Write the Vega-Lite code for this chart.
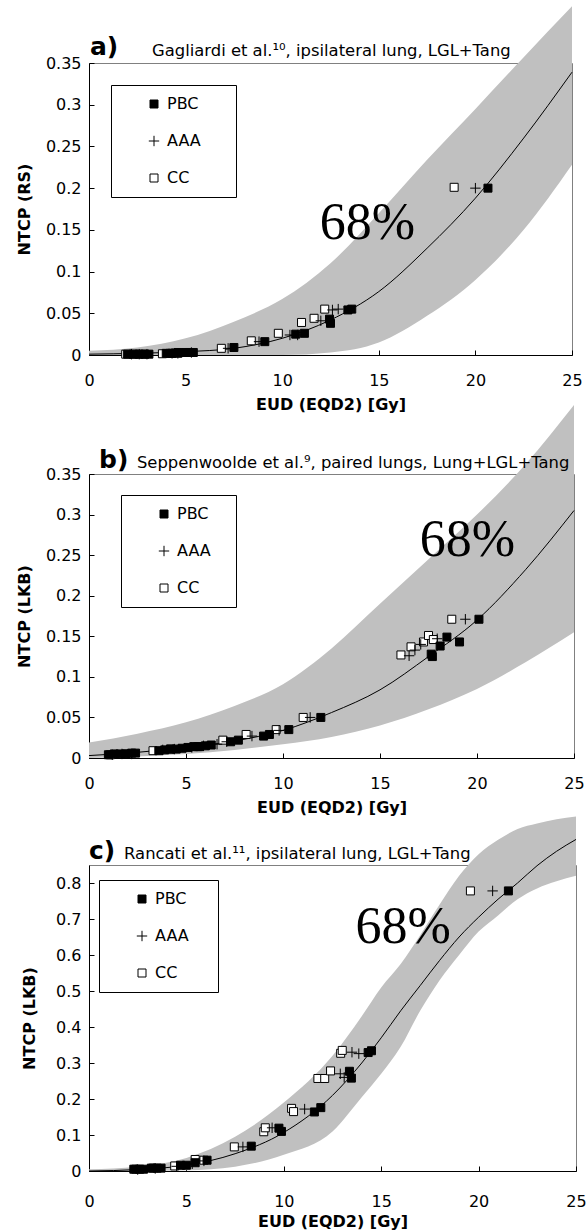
{
"$schema": "https://vega.github.io/schema/vega-lite/v6.json",
"padding": {"left": 15, "top": 5, "right": 0, "bottom": 0},
"background": "white",
"bounds": "flush",
"spacing": 119,
"config": {
 "view": {"stroke": "#808080", "strokeWidth": 1},
 "font": "DejaVu Sans",
 "axis": {"domainColor": "black", "domainWidth": 1, "tickColor": "black", "tickWidth": 1, "tickSize": -5, "grid": false, "labelOverlap": false, "labelFlush": false, "labelBound": false, "labelFont": "DejaVu Sans", "labelFontSize": 16, "labelColor": "black", "titleFont": "DejaVu Sans", "titleFontSize": 16, "titleFontWeight": "bold", "titleColor": "black"},
 "axisX": {"labelPadding": 22, "titlePadding": 8},
 "axisY": {"labelPadding": 13, "titlePadding": 13},
 "legend": {"strokeColor": "black", "strokeWidth": 1, "fillColor": "white", "padding": 11, "rowPadding": 21, "labelFont": "DejaVu Sans", "labelFontSize": 16, "labelColor": "black", "symbolSize": 64, "symbolStrokeColor": "black", "symbolStrokeWidth": 1, "symbolOffset": 24, "labelOffset": 5, "titleOrient": "right", "titlePadding": 0, "titleOpacity": 0, "titleFont": "DejaVu Sans", "titleFontWeight": "normal"}
},
"datasets": {
 "crvA": [
  {"x": 0, "y": 0.001, "lo": 0, "hi": 0.005},
  {"x": 2.5, "y": 0.002, "lo": 0, "hi": 0.009},
  {"x": 5, "y": 0.004, "lo": 0, "hi": 0.02},
  {"x": 7.5, "y": 0.008, "lo": 0, "hi": 0.04},
  {"x": 10, "y": 0.02, "lo": 0, "hi": 0.067},
  {"x": 12.5, "y": 0.042, "lo": 0.003, "hi": 0.11},
  {"x": 15, "y": 0.076, "lo": 0.015, "hi": 0.17},
  {"x": 17.5, "y": 0.128, "lo": 0.047, "hi": 0.234},
  {"x": 20, "y": 0.188, "lo": 0.09, "hi": 0.295},
  {"x": 22.5, "y": 0.26, "lo": 0.15, "hi": 0.357},
  {"x": 25, "y": 0.339, "lo": 0.228, "hi": 0.418}
 ],
 "crvB": [
  {"x": 0, "y": 0.003, "lo": 0, "hi": 0.019},
  {"x": 2.5, "y": 0.007, "lo": 0.002, "hi": 0.03},
  {"x": 5, "y": 0.013, "lo": 0.005, "hi": 0.044},
  {"x": 7.5, "y": 0.021, "lo": 0.01, "hi": 0.064},
  {"x": 10, "y": 0.034, "lo": 0.017, "hi": 0.091},
  {"x": 12.5, "y": 0.056, "lo": 0.026, "hi": 0.135},
  {"x": 15, "y": 0.084, "lo": 0.04, "hi": 0.19},
  {"x": 17.5, "y": 0.125, "lo": 0.06, "hi": 0.245},
  {"x": 20, "y": 0.17, "lo": 0.085, "hi": 0.3},
  {"x": 22.5, "y": 0.232, "lo": 0.118, "hi": 0.362},
  {"x": 25, "y": 0.305, "lo": 0.155, "hi": 0.435}
 ],
 "crvC": [
  {"x": 0, "y": 0, "lo": 0, "hi": 0.005},
  {"x": 2.5, "y": 0.004, "lo": 0, "hi": 0.012},
  {"x": 5, "y": 0.016, "lo": 0.002, "hi": 0.036},
  {"x": 7.5, "y": 0.048, "lo": 0.012, "hi": 0.095},
  {"x": 10, "y": 0.107, "lo": 0.045, "hi": 0.19},
  {"x": 12.5, "y": 0.21, "lo": 0.11, "hi": 0.32},
  {"x": 14, "y": 0.3, "lo": 0.205, "hi": 0.43},
  {"x": 15, "y": 0.37, "lo": 0.27, "hi": 0.51},
  {"x": 16, "y": 0.445, "lo": 0.345, "hi": 0.575},
  {"x": 17, "y": 0.515, "lo": 0.445, "hi": 0.655},
  {"x": 18, "y": 0.585, "lo": 0.53, "hi": 0.74},
  {"x": 19, "y": 0.65, "lo": 0.6, "hi": 0.82},
  {"x": 20, "y": 0.705, "lo": 0.665, "hi": 0.88},
  {"x": 21, "y": 0.755, "lo": 0.71, "hi": 0.92},
  {"x": 22, "y": 0.8, "lo": 0.755, "hi": 0.95},
  {"x": 23, "y": 0.848, "lo": 0.785, "hi": 0.965},
  {"x": 24, "y": 0.888, "lo": 0.805, "hi": 0.977},
  {"x": 25, "y": 0.921, "lo": 0.82, "hi": 0.985}
 ],
 "ptsA": [
  {"series": "CC", "x": 1.9, "y": 0.001}, {"series": "CC", "x": 2.3, "y": 0.001}, {"series": "CC", "x": 2.7, "y": 0.001}, {"series": "CC", "x": 3.8, "y": 0.0015}, {"series": "CC", "x": 4.2, "y": 0.002}, {"series": "CC", "x": 4.6, "y": 0.002}, {"series": "CC", "x": 5.2, "y": 0.003}, {"series": "CC", "x": 6.85, "y": 0.008}, {"series": "CC", "x": 8.4, "y": 0.017}, {"series": "CC", "x": 9.8, "y": 0.026}, {"series": "CC", "x": 11.0, "y": 0.039}, {"series": "CC", "x": 11.65, "y": 0.044}, {"series": "CC", "x": 12.2, "y": 0.055}, {"series": "CC", "x": 18.9, "y": 0.201},
  {"series": "AAA", "x": 2.2, "y": 0.001}, {"series": "AAA", "x": 2.6, "y": 0.001}, {"series": "AAA", "x": 3.0, "y": 0.001}, {"series": "AAA", "x": 4.3, "y": 0.002}, {"series": "AAA", "x": 4.6, "y": 0.002}, {"series": "AAA", "x": 5.3, "y": 0.003}, {"series": "AAA", "x": 7.2, "y": 0.008}, {"series": "AAA", "x": 8.8, "y": 0.016}, {"series": "AAA", "x": 10.4, "y": 0.024}, {"series": "AAA", "x": 10.8, "y": 0.024}, {"series": "AAA", "x": 12.0, "y": 0.041}, {"series": "AAA", "x": 12.6, "y": 0.054}, {"series": "AAA", "x": 12.9, "y": 0.055}, {"series": "AAA", "x": 20.0, "y": 0.2},
  {"series": "PBC", "x": 2.0, "y": 0.001}, {"series": "PBC", "x": 2.3, "y": 0.001}, {"series": "PBC", "x": 2.6, "y": 0.001}, {"series": "PBC", "x": 2.9, "y": 0.001}, {"series": "PBC", "x": 3.1, "y": 0.001}, {"series": "PBC", "x": 4.0, "y": 0.002}, {"series": "PBC", "x": 4.3, "y": 0.002}, {"series": "PBC", "x": 4.6, "y": 0.003}, {"series": "PBC", "x": 5.0, "y": 0.003}, {"series": "PBC", "x": 5.4, "y": 0.003}, {"series": "PBC", "x": 7.5, "y": 0.009}, {"series": "PBC", "x": 9.1, "y": 0.016}, {"series": "PBC", "x": 10.7, "y": 0.025}, {"series": "PBC", "x": 11.15, "y": 0.026}, {"series": "PBC", "x": 12.45, "y": 0.043}, {"series": "PBC", "x": 12.5, "y": 0.038}, {"series": "PBC", "x": 13.4, "y": 0.054}, {"series": "PBC", "x": 13.6, "y": 0.055}, {"series": "PBC", "x": 20.65, "y": 0.2}
 ],
 "ptsB": [
  {"series": "CC", "x": 1.1, "y": 0.004}, {"series": "CC", "x": 2.0, "y": 0.005}, {"series": "CC", "x": 3.3, "y": 0.009}, {"series": "CC", "x": 4.2, "y": 0.011}, {"series": "CC", "x": 5.6, "y": 0.014}, {"series": "CC", "x": 6.9, "y": 0.022}, {"series": "CC", "x": 8.1, "y": 0.029}, {"series": "CC", "x": 9.65, "y": 0.035}, {"series": "CC", "x": 11.04, "y": 0.05}, {"series": "CC", "x": 16.08, "y": 0.127}, {"series": "CC", "x": 16.6, "y": 0.137}, {"series": "CC", "x": 17.24, "y": 0.143}, {"series": "CC", "x": 17.5, "y": 0.151}, {"series": "CC", "x": 17.75, "y": 0.146}, {"series": "CC", "x": 18.7, "y": 0.171},
  {"series": "AAA", "x": 1.2, "y": 0.004}, {"series": "AAA", "x": 1.7, "y": 0.005}, {"series": "AAA", "x": 2.2, "y": 0.005}, {"series": "AAA", "x": 3.8, "y": 0.01}, {"series": "AAA", "x": 4.4, "y": 0.011}, {"series": "AAA", "x": 5.3, "y": 0.013}, {"series": "AAA", "x": 5.9, "y": 0.015}, {"series": "AAA", "x": 6.6, "y": 0.017}, {"series": "AAA", "x": 7.1, "y": 0.02}, {"series": "AAA", "x": 8.4, "y": 0.027}, {"series": "AAA", "x": 9.8, "y": 0.034}, {"series": "AAA", "x": 11.4, "y": 0.05}, {"series": "AAA", "x": 16.5, "y": 0.126}, {"series": "AAA", "x": 16.8, "y": 0.133}, {"series": "AAA", "x": 17.1, "y": 0.14}, {"series": "AAA", "x": 17.95, "y": 0.147}, {"series": "AAA", "x": 19.4, "y": 0.171},
  {"series": "PBC", "x": 1.0, "y": 0.004}, {"series": "PBC", "x": 1.3, "y": 0.005}, {"series": "PBC", "x": 1.6, "y": 0.005}, {"series": "PBC", "x": 1.9, "y": 0.005}, {"series": "PBC", "x": 2.2, "y": 0.006}, {"series": "PBC", "x": 2.4, "y": 0.006}, {"series": "PBC", "x": 3.6, "y": 0.009}, {"series": "PBC", "x": 3.9, "y": 0.01}, {"series": "PBC", "x": 4.2, "y": 0.011}, {"series": "PBC", "x": 4.5, "y": 0.011}, {"series": "PBC", "x": 4.8, "y": 0.012}, {"series": "PBC", "x": 5.1, "y": 0.013}, {"series": "PBC", "x": 5.4, "y": 0.014}, {"series": "PBC", "x": 5.7, "y": 0.014}, {"series": "PBC", "x": 6.0, "y": 0.015}, {"series": "PBC", "x": 6.3, "y": 0.016}, {"series": "PBC", "x": 7.3, "y": 0.02}, {"series": "PBC", "x": 7.7, "y": 0.022}, {"series": "PBC", "x": 9.0, "y": 0.027}, {"series": "PBC", "x": 9.3, "y": 0.029}, {"series": "PBC", "x": 10.3, "y": 0.035}, {"series": "PBC", "x": 11.95, "y": 0.05}, {"series": "PBC", "x": 17.64, "y": 0.128}, {"series": "PBC", "x": 17.7, "y": 0.125}, {"series": "PBC", "x": 18.1, "y": 0.138}, {"series": "PBC", "x": 18.45, "y": 0.149}, {"series": "PBC", "x": 19.1, "y": 0.143}, {"series": "PBC", "x": 20.1, "y": 0.171}
 ],
 "ptsC": [
  {"series": "CC", "x": 2.4, "y": 0.005}, {"series": "CC", "x": 3.3, "y": 0.008}, {"series": "CC", "x": 4.4, "y": 0.014}, {"series": "CC", "x": 5.45, "y": 0.032}, {"series": "CC", "x": 5.9, "y": 0.03}, {"series": "CC", "x": 7.46, "y": 0.067}, {"series": "CC", "x": 8.97, "y": 0.109}, {"series": "CC", "x": 9.05, "y": 0.12}, {"series": "CC", "x": 10.4, "y": 0.174}, {"series": "CC", "x": 10.5, "y": 0.165}, {"series": "CC", "x": 11.75, "y": 0.257}, {"series": "CC", "x": 12.1, "y": 0.257}, {"series": "CC", "x": 12.4, "y": 0.278}, {"series": "CC", "x": 12.92, "y": 0.327}, {"series": "CC", "x": 13.0, "y": 0.335}, {"series": "CC", "x": 19.58, "y": 0.778},
  {"series": "AAA", "x": 2.5, "y": 0.004}, {"series": "AAA", "x": 3.4, "y": 0.007}, {"series": "AAA", "x": 4.5, "y": 0.013}, {"series": "AAA", "x": 5.3, "y": 0.02}, {"series": "AAA", "x": 5.9, "y": 0.028}, {"series": "AAA", "x": 7.9, "y": 0.067}, {"series": "AAA", "x": 9.4, "y": 0.12}, {"series": "AAA", "x": 11.07, "y": 0.172}, {"series": "AAA", "x": 12.9, "y": 0.27}, {"series": "AAA", "x": 13.1, "y": 0.26}, {"series": "AAA", "x": 13.5, "y": 0.33}, {"series": "AAA", "x": 13.85, "y": 0.326}, {"series": "AAA", "x": 20.72, "y": 0.778},
  {"series": "PBC", "x": 2.3, "y": 0.005}, {"series": "PBC", "x": 2.6, "y": 0.005}, {"series": "PBC", "x": 2.8, "y": 0.005}, {"series": "PBC", "x": 3.2, "y": 0.008}, {"series": "PBC", "x": 3.5, "y": 0.008}, {"series": "PBC", "x": 3.7, "y": 0.008}, {"series": "PBC", "x": 4.7, "y": 0.016}, {"series": "PBC", "x": 5.0, "y": 0.016}, {"series": "PBC", "x": 5.45, "y": 0.023}, {"series": "PBC", "x": 6.06, "y": 0.03}, {"series": "PBC", "x": 8.33, "y": 0.069}, {"series": "PBC", "x": 9.75, "y": 0.119}, {"series": "PBC", "x": 9.88, "y": 0.11}, {"series": "PBC", "x": 11.57, "y": 0.164}, {"series": "PBC", "x": 11.9, "y": 0.176}, {"series": "PBC", "x": 13.37, "y": 0.277}, {"series": "PBC", "x": 13.47, "y": 0.258}, {"series": "PBC", "x": 14.33, "y": 0.329}, {"series": "PBC", "x": 14.5, "y": 0.334}, {"series": "PBC", "x": 21.53, "y": 0.778}
 ]
},
"resolve": {"scale": {"x": "independent", "y": "independent", "shape": "independent", "fill": "independent", "stroke": "independent"}, "axis": {"x": "independent", "y": "independent"}, "legend": {"shape": "independent", "fill": "independent", "stroke": "independent"}},
"vconcat": [
 {
  "width": 483, "height": 292,
  "layer": [
   {"data": {"name": "crvA"}, "mark": {"type": "area", "color": "#c0c0c0", "interpolate": "monotone", "clip": false},
    "encoding": {
     "x": {"field": "x", "type": "quantitative", "title": "EUD (EQD2) [Gy]", "scale": {"domain": [0, 25], "nice": false}, "axis": {"values": [0, 5, 10, 15, 20, 25], "labelFlush": false, "labelOverlap": false}},
     "y": {"field": "hi", "type": "quantitative", "title": "NTCP (RS)", "scale": {"domain": [0, 0.35], "nice": false}, "axis": {"values": [0, 0.05, 0.1, 0.15, 0.2, 0.25, 0.3, 0.35], "format": "~g", "labelFlush": false, "labelOverlap": false}},
     "y2": {"field": "lo"}}},
   {"data": {"name": "crvA"}, "mark": {"type": "line", "color": "black", "strokeWidth": 1, "interpolate": "monotone"},
    "encoding": {"x": {"field": "x", "type": "quantitative", "title": "EUD (EQD2) [Gy]"}, "y": {"field": "y", "type": "quantitative", "title": "NTCP (RS)"}}},
   {"data": {"name": "ptsA"}, "mark": {"type": "point", "filled": false, "size": 64, "strokeWidth": 1, "opacity": 1},
    "encoding": {
     "x": {"field": "x", "type": "quantitative", "title": "EUD (EQD2) [Gy]"},
     "y": {"field": "y", "type": "quantitative", "title": "NTCP (RS)"},
     "shape": {"field": "series", "type": "nominal", "scale": {"domain": ["PBC", "AAA", "CC"], "range": ["square", "M-1.3,0L1.3,0M0,-1.3L0,1.3", "square"]}, "legend": {"orient": "none", "legendX": 22, "legendY": 22, "title": "xxx", "titleFontSize": 13.2}},
     "fill": {"field": "series", "type": "nominal", "scale": {"domain": ["PBC", "AAA", "CC"], "range": ["black", "transparent", "white"]}, "legend": {"orient": "none", "legendX": 22, "legendY": 22, "title": "xxx", "titleFontSize": 13.2}},
     "stroke": {"field": "series", "type": "nominal", "scale": {"domain": ["PBC", "AAA", "CC"], "range": ["black", "black", "black"]}, "legend": {"orient": "none", "legendX": 22, "legendY": 22, "title": "xxx", "titleFontSize": 13.2}}}},
   {"data": {"values": [{"x": 0.05, "y": 0.359, "t": "a)"}]}, "mark": {"type": "text", "align": "left", "baseline": "alphabetic", "font": "DejaVu Sans", "fontSize": 25, "fontWeight": "bold", "color": "black"},
    "encoding": {"x": {"field": "x", "type": "quantitative", "title": "EUD (EQD2) [Gy]"}, "y": {"field": "y", "type": "quantitative", "title": "NTCP (RS)"}, "text": {"field": "t"}}},
   {"data": {"values": [{"x": 3.26, "y": 0.3585, "t": "Gagliardi et al.\u00b9\u2070, ipsilateral lung, LGL+Tang"}]}, "mark": {"type": "text", "align": "left", "baseline": "alphabetic", "font": "DejaVu Sans", "fontSize": 16.4, "color": "black"},
    "encoding": {"x": {"field": "x", "type": "quantitative", "title": "EUD (EQD2) [Gy]"}, "y": {"field": "y", "type": "quantitative", "title": "NTCP (RS)"}, "text": {"field": "t"}}},
   {"data": {"values": [{"x": 14.41, "y": 0.139, "t": "68%"}]}, "mark": {"type": "text", "align": "center", "baseline": "alphabetic", "font": "Liberation Serif", "fontSize": 52, "color": "black"},
    "encoding": {"x": {"field": "x", "type": "quantitative", "title": "EUD (EQD2) [Gy]"}, "y": {"field": "y", "type": "quantitative", "title": "NTCP (RS)"}, "text": {"field": "t"}}}
  ]
 },
 {
  "bounds": "flush",
  "spacing": 107,
  "resolve": {"scale": {"x": "independent", "y": "independent", "shape": "independent", "fill": "independent", "stroke": "independent"}, "axis": {"x": "independent", "y": "independent"}, "legend": {"shape": "independent", "fill": "independent", "stroke": "independent"}},
  "vconcat": [
   {
    "width": 485, "height": 284,
    "layer": [
     {"data": {"name": "crvB"}, "mark": {"type": "area", "color": "#c0c0c0", "interpolate": "monotone", "clip": false},
      "encoding": {
       "x": {"field": "x", "type": "quantitative", "title": "EUD (EQD2) [Gy]", "scale": {"domain": [0, 25], "nice": false}, "axis": {"values": [0, 5, 10, 15, 20, 25], "labelFlush": false, "labelOverlap": false}},
       "y": {"field": "hi", "type": "quantitative", "title": "NTCP (LKB)", "scale": {"domain": [0, 0.35], "nice": false}, "axis": {"values": [0, 0.05, 0.1, 0.15, 0.2, 0.25, 0.3, 0.35], "format": "~g", "labelFlush": false, "labelOverlap": false}},
       "y2": {"field": "lo"}}},
     {"data": {"name": "crvB"}, "mark": {"type": "line", "color": "black", "strokeWidth": 1, "interpolate": "monotone"},
      "encoding": {"x": {"field": "x", "type": "quantitative", "title": "EUD (EQD2) [Gy]"}, "y": {"field": "y", "type": "quantitative", "title": "NTCP (LKB)"}}},
     {"data": {"name": "ptsB"}, "mark": {"type": "point", "filled": false, "size": 64, "strokeWidth": 1, "opacity": 1},
      "encoding": {
       "x": {"field": "x", "type": "quantitative", "title": "EUD (EQD2) [Gy]"},
       "y": {"field": "y", "type": "quantitative", "title": "NTCP (LKB)"},
       "shape": {"field": "series", "type": "nominal", "scale": {"domain": ["PBC", "AAA", "CC"], "range": ["square", "M-1.3,0L1.3,0M0,-1.3L0,1.3", "square"]}, "legend": {"orient": "none", "legendX": 32, "legendY": 21, "title": "xx", "titleFontSize": 11.4}},
       "fill": {"field": "series", "type": "nominal", "scale": {"domain": ["PBC", "AAA", "CC"], "range": ["black", "transparent", "white"]}, "legend": {"orient": "none", "legendX": 32, "legendY": 21, "title": "xx", "titleFontSize": 11.4}},
       "stroke": {"field": "series", "type": "nominal", "scale": {"domain": ["PBC", "AAA", "CC"], "range": ["black", "black", "black"]}, "legend": {"orient": "none", "legendX": 32, "legendY": 21, "title": "xx", "titleFontSize": 11.4}}}},
     {"data": {"values": [{"x": 0.52, "y": 0.357, "t": "b)"}]}, "mark": {"type": "text", "align": "left", "baseline": "alphabetic", "font": "DejaVu Sans", "fontSize": 25, "fontWeight": "bold", "color": "black"},
      "encoding": {"x": {"field": "x", "type": "quantitative", "title": "EUD (EQD2) [Gy]"}, "y": {"field": "y", "type": "quantitative", "title": "NTCP (LKB)"}, "text": {"field": "t"}}},
     {"data": {"values": [{"x": 2.47, "y": 0.357, "t": "Seppenwoolde et al.\u2079, paired lungs, Lung+LGL+Tang"}]}, "mark": {"type": "text", "align": "left", "baseline": "alphabetic", "font": "DejaVu Sans", "fontSize": 16.4, "color": "black"},
      "encoding": {"x": {"field": "x", "type": "quantitative", "title": "EUD (EQD2) [Gy]"}, "y": {"field": "y", "type": "quantitative", "title": "NTCP (LKB)"}, "text": {"field": "t"}}},
     {"data": {"values": [{"x": 19.5, "y": 0.249, "t": "68%"}]}, "mark": {"type": "text", "align": "center", "baseline": "alphabetic", "font": "Liberation Serif", "fontSize": 52, "color": "black"},
      "encoding": {"x": {"field": "x", "type": "quantitative", "title": "EUD (EQD2) [Gy]"}, "y": {"field": "y", "type": "quantitative", "title": "NTCP (LKB)"}, "text": {"field": "t"}}}
    ]
   },
   {
    "width": 487, "height": 306,
    "layer": [
     {"data": {"name": "crvC"}, "mark": {"type": "area", "color": "#c0c0c0", "interpolate": "monotone", "clip": false},
      "encoding": {
       "x": {"field": "x", "type": "quantitative", "title": "EUD (EQD2) [Gy]", "scale": {"domain": [0, 25], "nice": false}, "axis": {"values": [0, 5, 10, 15, 20, 25], "labelPadding": 27, "titlePadding": 4, "labelFlush": false, "labelOverlap": false}},
       "y": {"field": "hi", "type": "quantitative", "title": "NTCP (LKB)", "scale": {"domain": [0, 0.85], "nice": false}, "axis": {"values": [0, 0.1, 0.2, 0.3, 0.4, 0.5, 0.6, 0.7, 0.8], "tickCount": 9, "format": "~g", "labelFlush": false, "labelOverlap": false, "labelSeparation": 0, "titlePadding": 18}},
       "y2": {"field": "lo"}}},
     {"data": {"name": "crvC"}, "mark": {"type": "line", "color": "black", "strokeWidth": 1, "interpolate": "monotone"},
      "encoding": {"x": {"field": "x", "type": "quantitative", "title": "EUD (EQD2) [Gy]", "axis": {"values": [0, 5, 10, 15, 20, 25], "labelPadding": 27, "titlePadding": 4, "labelFlush": false, "labelOverlap": false}}, "y": {"field": "y", "type": "quantitative", "title": "NTCP (LKB)", "axis": {"values": [0, 0.1, 0.2, 0.3, 0.4, 0.5, 0.6, 0.7, 0.8], "tickCount": 9, "format": "~g", "labelFlush": false, "labelOverlap": false, "labelSeparation": 0, "titlePadding": 18}}}},
     {"data": {"name": "ptsC"}, "mark": {"type": "point", "filled": false, "size": 64, "strokeWidth": 1, "opacity": 1},
      "encoding": {
       "x": {"field": "x", "type": "quantitative", "title": "EUD (EQD2) [Gy]", "axis": {"values": [0, 5, 10, 15, 20, 25], "labelPadding": 27, "titlePadding": 4, "labelFlush": false, "labelOverlap": false}},
       "y": {"field": "y", "type": "quantitative", "title": "NTCP (LKB)", "axis": {"values": [0, 0.1, 0.2, 0.3, 0.4, 0.5, 0.6, 0.7, 0.8], "tickCount": 9, "format": "~g", "labelFlush": false, "labelOverlap": false, "labelSeparation": 0, "titlePadding": 18}},
       "shape": {"field": "series", "type": "nominal", "scale": {"domain": ["PBC", "AAA", "CC"], "range": ["square", "M-1.3,0L1.3,0M0,-1.3L0,1.3", "square"]}, "legend": {"orient": "none", "legendX": 10, "legendY": 15, "title": "xx", "titleFontSize": 14.8}},
       "fill": {"field": "series", "type": "nominal", "scale": {"domain": ["PBC", "AAA", "CC"], "range": ["black", "transparent", "white"]}, "legend": {"orient": "none", "legendX": 10, "legendY": 15, "title": "xx", "titleFontSize": 14.8}},
       "stroke": {"field": "series", "type": "nominal", "scale": {"domain": ["PBC", "AAA", "CC"], "range": ["black", "black", "black"]}, "legend": {"orient": "none", "legendX": 10, "legendY": 15, "title": "xx", "titleFontSize": 14.8}}}},
     {"data": {"values": [{"x": 0, "y": 0.867, "t": "c)"}]}, "mark": {"type": "text", "align": "left", "baseline": "alphabetic", "font": "DejaVu Sans", "fontSize": 25, "fontWeight": "bold", "color": "black"},
      "encoding": {"x": {"field": "x", "type": "quantitative", "title": "EUD (EQD2) [Gy]"}, "y": {"field": "y", "type": "quantitative", "title": "NTCP (LKB)"}, "text": {"field": "t"}}},
     {"data": {"values": [{"x": 1.8, "y": 0.867, "t": "Rancati et al.\u00b9\u00b9, ipsilateral lung, LGL+Tang"}]}, "mark": {"type": "text", "align": "left", "baseline": "alphabetic", "font": "DejaVu Sans", "fontSize": 16.4, "color": "black"},
      "encoding": {"x": {"field": "x", "type": "quantitative", "title": "EUD (EQD2) [Gy]"}, "y": {"field": "y", "type": "quantitative", "title": "NTCP (LKB)"}, "text": {"field": "t"}}},
     {"data": {"values": [{"x": 16.13, "y": 0.634, "t": "68%"}]}, "mark": {"type": "text", "align": "center", "baseline": "alphabetic", "font": "Liberation Serif", "fontSize": 52, "color": "black"},
      "encoding": {"x": {"field": "x", "type": "quantitative", "title": "EUD (EQD2) [Gy]"}, "y": {"field": "y", "type": "quantitative", "title": "NTCP (LKB)"}, "text": {"field": "t"}}}
    ]
   }
  ]
 }
]
}
